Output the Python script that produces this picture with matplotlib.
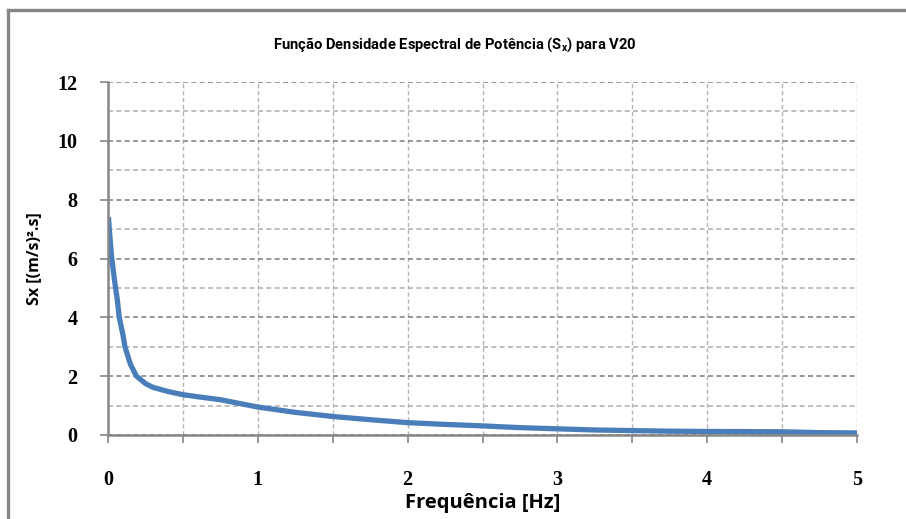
import matplotlib
matplotlib.use("Agg")
import matplotlib.pyplot as plt
from matplotlib.lines import Line2D
from matplotlib.ticker import MultipleLocator

freq = [0.003, 0.01, 0.025, 0.045, 0.062, 0.075, 0.1, 0.113, 0.15, 0.19, 0.25, 0.3, 0.4,
        0.5, 0.6, 0.75, 0.9, 1.0, 1.25, 1.5, 1.75, 2.0, 2.25, 2.5, 2.75, 3.0, 3.25, 3.5,
        3.75, 4.0, 4.5, 4.75, 5.0]
sx = [7.4, 6.9, 6.0, 5.2, 4.6, 4.0, 3.4, 3.0, 2.4, 2.0, 1.75, 1.62, 1.48,
      1.37, 1.30, 1.20, 1.05, 0.95, 0.77, 0.63, 0.52, 0.42, 0.36, 0.31, 0.25, 0.21, 0.17, 0.15,
      0.13, 0.12, 0.11, 0.08, 0.07]
x_ticks = [0, 1, 2, 3, 4, 5]
y_ticks = [0, 2, 4, 6, 8, 10, 12]

title = "Função Densidade Espectral de Potência (S$_\\mathregular{x}$) para V20"
xlabel = "Frequência [Hz]"
ylabel = "Sx [(m/s)².s]"

W, H = 906, 519
fig = plt.figure(figsize=(W/100, H/100), dpi=100)
ax = fig.add_axes([108/W, 1-435/H, (857-108)/W, (435-82)/H])

gray = "#868686"
light = "#b4b4b4"
sans = ["Open Sans", "DejaVu Sans"]
narrow = ["Roboto", "DejaVu Sans"]

ax.plot(freq, sx, color="#4a7ebb", lw=3.8, solid_capstyle="butt", zorder=3)

ax.set_xlim(0, 5)
ax.set_ylim(0, 12)
ax.set_xticks(x_ticks)
ax.set_yticks(y_ticks)
ax.xaxis.set_minor_locator(MultipleLocator(0.5))
ax.yaxis.set_minor_locator(MultipleLocator(1))

for s in ["top", "right"]:
    ax.spines[s].set_visible(False)
for s in ["left", "bottom"]:
    ax.spines[s].set_color(gray)
    ax.spines[s].set_linewidth(1.8)
    ax.spines[s].set_zorder(4)

ax.grid(which="major", axis="y", color=gray, lw=1.2, ls=(0, (3, 2)))
ax.grid(which="minor", axis="y", color=light, lw=1.2, ls=(0, (3, 2)))
ax.grid(which="both", axis="x", color=light, lw=1.0, ls=(0, (3, 2)))
ax.set_axisbelow(True)

ax.tick_params(axis="x", which="both", direction="out", length=6, width=1.2, color=gray, pad=19)
ax.tick_params(axis="y", which="major", direction="out", length=6, width=1.2, color=gray, pad=16)
ax.tick_params(axis="y", which="minor", length=0)

for lab in ax.get_xticklabels() + ax.get_yticklabels():
    lab.set_fontfamily("Liberation Serif")
    lab.set_fontweight("bold")
    lab.set_fontsize(14.5)

ax.set_xlabel(xlabel, fontfamily=sans, fontweight="bold", fontsize=14.5)
ax.set_ylabel(ylabel, fontfamily=sans, fontweight="bold", fontsize=11.5)
ax.xaxis.set_label_coords(0.5, (435-493)/353)
ax.yaxis.set_label_coords((42-108)/749, 0.5)
fig.text(455/W, 1-45/H, title, ha="center", va="center",
         fontfamily=narrow, fontweight="bold", fontsize=10.6)

# outer chart frame
fig.add_artist(Line2D([8/W, 8/W], [0, 1-10/H], transform=fig.transFigure, color=gray, lw=2.4))
fig.add_artist(Line2D([8/W, 1], [1-10/H, 1-10/H], transform=fig.transFigure, color=gray, lw=2.4))

fig.savefig("out.png", dpi=100)
